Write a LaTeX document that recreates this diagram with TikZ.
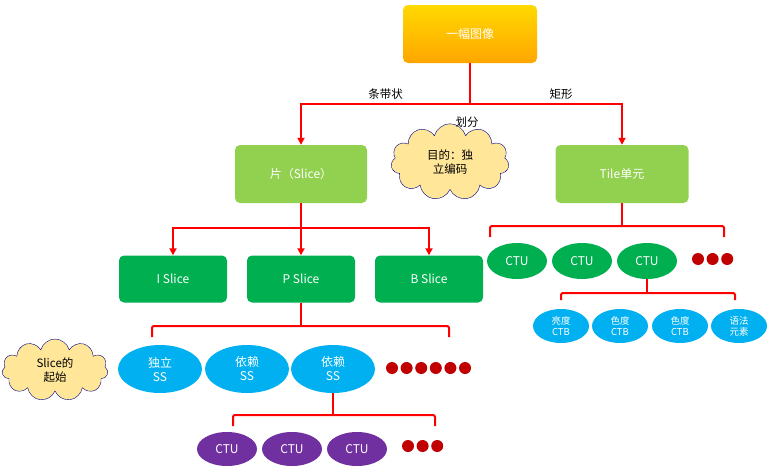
\documentclass[tikz,border=0pt]{standalone}
\usepackage{fontspec}
\setmainfont{Noto Sans CJK SC}
\usetikzlibrary{shapes.symbols,shapes.geometric,arrows.meta}
\definecolor{lgreen}{HTML}{92D050}
\definecolor{dgreen}{HTML}{00B050}
\definecolor{sky}{HTML}{00B0F0}
\definecolor{violet}{HTML}{7030A0}
\definecolor{dotred}{HTML}{C00000}
\definecolor{cloudy}{HTML}{FFE699}
\begin{document}
\begin{tikzpicture}[x=1pt,y=-1pt,
                    box/.style={draw=none, rounded corners=5pt, text=white, font=\fontsize{12}{14}\selectfont},
                    oval/.style={ellipse, text=white, inner sep=0, align=center, font=\fontsize{12}{14}\selectfont},
                    small_oval/.style={oval, minimum width=56pt, minimum height=34pt, fill=sky, font=\fontsize{9.5}{11}\selectfont},
                    cloud_note/.style={cloud, cloud puffs=11, draw=blue!50!black, fill=cloudy, align=center, inner sep=0, font=\fontsize{11.5}{14}\selectfont},
                    branch/.style={red, line width=2pt},
                    arrow/.style={branch, -{Triangle[length=7pt,width=7pt]}},
                    dot/.style={circle, fill=dotred, inner sep=0, minimum size=12pt}
                    ]
        \useasboundingbox (0,0) rectangle (775,471);
        % levels
        \node[box, top color=yellow!70!orange, bottom color=orange!70!yellow, minimum width=134pt, minimum height=58pt] (img) at (470,34) {一幅图像};
        \node[box, fill=lgreen, minimum width=132pt, minimum height=58pt] (slice) at (301,174) {片（Slice）};
        \node[box, fill=lgreen, minimum width=133pt, minimum height=58pt] (tile) at (622,174) {Tile单元};
        \node[cloud_note, minimum width=118pt, minimum height=62pt] (goal) at (450,162) {目的：独\\立编码};
        \node[box, fill=dgreen, minimum width=108pt, minimum height=47pt] (islice) at (173,279) {I Slice};
        \node[box, fill=dgreen, minimum width=108pt, minimum height=47pt] (pslice) at (301,279) {P Slice};
        \node[box, fill=dgreen, minimum width=108pt, minimum height=47pt] (bslice) at (429,279) {B Slice};
        \node[cloud_note, minimum width=106pt, minimum height=62pt] (start) at (55,370) {Slice的\\起始};

        % first split
        \coordinate (h0) at (470,104);
        \draw[branch] (img) -- (h0);
        \draw[arrow] (h0) -| (slice) node[pos=0.25, above, black, font=\fontsize{11.5}{14}\selectfont] {条带状};
        \draw[arrow] (h0) -| (tile) node[pos=0.3, above, black, font=\fontsize{11.5}{14}\selectfont] {矩形};
        \node[font=\fontsize{11.5}{14}\selectfont] (cut) at (467,122) {划分};

        % slice types
        \coordinate (h1) at (301,228);
        \draw[branch] (slice) -- (h1);
        \draw[arrow] (h1) -| (islice);
        \draw[arrow] (h1) -| (bslice);
        \draw[arrow] (h1) -- (pslice);

        % segments
        \node[oval, fill=sky, minimum width=84pt, minimum height=48pt] (ss1) at (160,369) {独立\\SS};
        \node[oval, fill=sky, minimum width=84pt, minimum height=48pt] (ss2) at (247,369) {依赖\\SS};
        \node[oval, fill=sky, minimum width=84pt, minimum height=48pt] (ss3) at (333,369) {依赖\\SS};
        \foreach \i in {0,...,5} { \node[dot] (sd\i) at (392+14.6*\i,368) {}; }
        \coordinate (h2) at (301,326);
        \coordinate (h2l) at (152,337);
        \coordinate (h2r) at (449,337);
        \draw[branch, rounded corners=2pt] (h2l) |- (h2) -| (h2r);
        \draw[branch] (pslice) -- (h2);

        % ctus of a segment
        \node[oval, fill=violet, minimum width=60pt, minimum height=34pt] (pc1) at (227,449) {CTU};
        \node[oval, fill=violet, minimum width=60pt, minimum height=34pt] (pc2) at (292,449) {CTU};
        \node[oval, fill=violet, minimum width=60pt, minimum height=34pt] (pc3) at (357,449) {CTU};
        \foreach \i in {0,...,2} { \node[dot] (pd\i) at (408+14.6*\i,446) {}; }
        \coordinate (h3) at (333,415);
        \coordinate (h3l) at (233,426);
        \coordinate (h3r) at (435,426);
        \draw[branch, rounded corners=2pt] (h3l) |- (h3) -| (h3r);
        \draw[branch] (ss3) -- (h3);

        % tile ctus
        \node[oval, fill=dgreen, minimum width=60pt, minimum height=36pt] (tc1) at (517,261) {CTU};
        \node[oval, fill=dgreen, minimum width=60pt, minimum height=36pt] (tc2) at (582,261) {CTU};
        \node[oval, fill=dgreen, minimum width=60pt, minimum height=36pt] (tc3) at (647,261) {CTU};
        \foreach \i in {0,...,2} { \node[dot] (td\i) at (698+14.6*\i,259) {}; }
        \coordinate (h4) at (622,226);
        \coordinate (h4l) at (490,237);
        \coordinate (h4r) at (724,237);
        \draw[branch, rounded corners=2pt] (h4l) |- (h4) -| (h4r);
        \draw[branch] (tile) -- (h4);

        % blocks
        \node[small_oval] (b1) at (561,326) {亮度\\CTB};
        \node[small_oval] (b2) at (620,326) {色度\\CTB};
        \node[small_oval] (b3) at (680,326) {色度\\CTB};
        \node[small_oval] (b4) at (739,326) {语法\\元素};
        \coordinate (h5) at (647,293);
        \coordinate (h5l) at (561,300);
        \coordinate (h5r) at (735,300);
        \draw[branch, rounded corners=2pt] (h5l) |- (h5) -| (h5r);
        \draw[branch] (tc3) -- (h5);
    \end{tikzpicture}
\end{document}
